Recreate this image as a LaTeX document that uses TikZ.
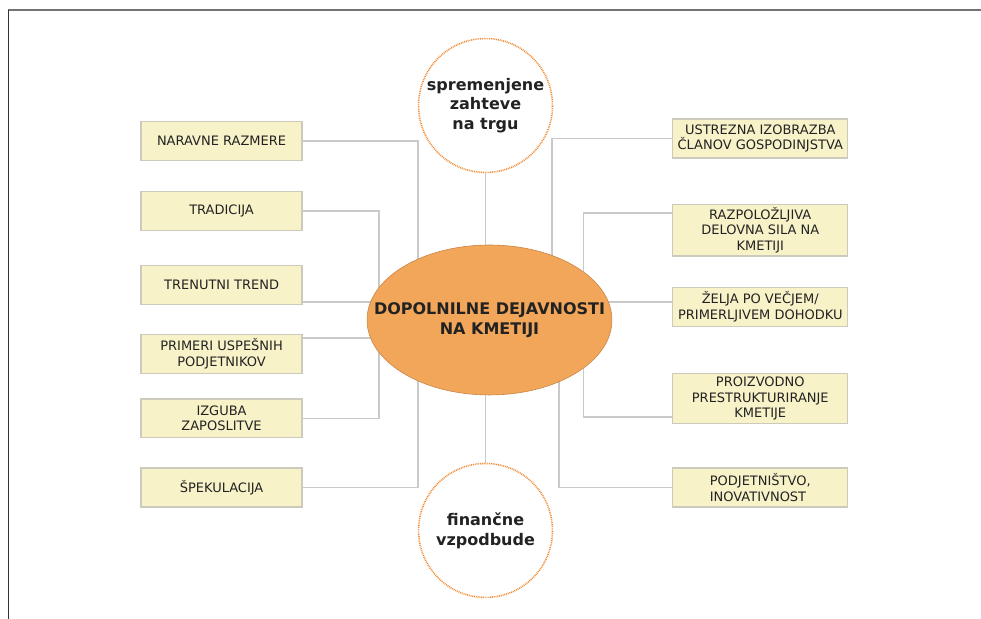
\documentclass[tikz,border=0pt]{standalone}
\usepackage{fontspec}
\setmainfont{DejaVu Sans}
\usetikzlibrary{positioning,backgrounds,shapes.geometric}

\definecolor{boxfill}{HTML}{F8F2C9}
\definecolor{boxline}{HTML}{CCCABC}
\definecolor{linkgray}{HTML}{C9C9C9}
\definecolor{kmetfill}{HTML}{F2A65A}
\definecolor{kmetline}{HTML}{C98444}
\definecolor{dotorange}{HTML}{F08A34}
\definecolor{txt}{HTML}{222222}

\tikzset{
  box/.style={draw=boxline, line width=1.2pt, fill=boxfill, text=txt, align=center,
    minimum height=39pt, inner xsep=2pt, inner ysep=3pt,
    font=\fontsize{13}{15.5}\selectfont},
  lbox/.style={box, minimum width=161pt},
  rbox/.style={box, minimum width=175pt},
  link/.style={draw=linkgray, line width=1.3pt},
  goal/.style={circle, draw=dotorange, line width=1.6pt, dash pattern=on 0.9pt off 0.9pt,
    minimum size=134pt, inner sep=0pt, align=center, text=txt,
    font=\fontsize{16}{19.7}\selectfont\bfseries},
  kmetija/.style={ellipse, draw=kmetline, line width=0.6pt, fill=kmetfill,
    minimum width=245pt, minimum height=150pt, inner sep=0pt},
}

\begin{document}
\begin{tikzpicture}[on grid]
 \useasboundingbox (-17.21,11.25) rectangle (17.28,-10.51);
 % okvir
 \draw[black!55, line width=1.8pt] (-16.92,10.91) -- (17.28,10.91);
 \draw[black!80, line width=0.8pt] (-16.92,10.91) -- (-16.92,-10.51);

 \node[kmetija, label={[text=txt, align=center, font=\fontsize{16}{20}\selectfont\bfseries]center:DOPOLNILNE DEJAVNOSTI\\NA KMETIJI}] (kmet) at (0,0) {};

 \node[goal, above left=7.54cm and 0.14cm of kmet] (spr) {spremenjene\\zahteve\\na trgu};
 \node[goal, below left=7.40cm and 0.14cm of kmet] (fin) {finančne\\vzpodbude};

 % levo
 \node[lbox, above left=6.29cm and 9.42cm of kmet] (nar) {NARAVNE RAZMERE};
 \node[lbox, above left=3.83cm and 9.42cm of kmet] (trad) {TRADICIJA};
 \node[lbox, above left=1.23cm and 9.42cm of kmet] (tren) {TRENUTNI TREND};
 \node[lbox, below left=1.19cm and 9.42cm of kmet] (prim) {PRIMERI USPEŠNIH\\PODJETNIKOV};
 \node[lbox, below left=3.46cm and 9.42cm of kmet] (izg) {IZGUBA\\ZAPOSLITVE};
 \node[lbox, below left=5.89cm and 9.42cm of kmet] (spek) {ŠPEKULACIJA};

 % desno
 \node[rbox, above right=6.38cm and 9.52cm of kmet] (ustr) {USTREZNA IZOBRAZBA\\ČLANOV GOSPODINJSTVA};
 \node[rbox, above right=3.16cm and 9.52cm of kmet] (razp) {RAZPOLOŽLJIVA\\DELOVNA SILA NA\\KMETIJI};
 \node[rbox, above right=0.47cm and 9.52cm of kmet] (zel) {ŽELJA PO VEČJEM/\\PRIMERLJIVEM DOHODKU};
 \node[rbox, below right=2.76cm and 9.52cm of kmet] (proiz) {PROIZVODNO\\PRESTRUKTURIRANJE\\KMETIJE};
 \node[rbox, below right=5.89cm and 9.52cm of kmet, align=left] (podj) {PODJETNIŠTVO,\\INOVATIVNOST};

 \coordinate[left=2.51cm of kmet] (levo1);
 \coordinate[left=3.88cm of kmet] (levo2);
 \coordinate[right=2.20cm of kmet] (desno1);
 \coordinate[right=2.44cm of kmet] (desno2);
 \coordinate[right=3.30cm of kmet] (desno3);

 \begin{scope}[on background layer]
  \draw[link] (nar.east) -| (levo1) |- (spek.east);
  \draw[link] (trad.east) -| (levo2) |- (izg.east);
  \draw[link] ([yshift=-0.6cm]tren.east) coordinate (t1) -- (t1 -| zel.west);
  \draw[link] ([yshift=0.56cm]prim.east) coordinate (p1) -- (p1 -| kmet);
  \draw[link] (ustr.west) -| (desno1);
  \draw[link] (podj.west) -| (desno2);
  \draw[link] ([yshift=0.6cm]razp.west) -| (desno3) |- ([yshift=-0.65cm]proiz.west);
  \draw[link] (spr) -- (spr |- kmet);
  \draw[link] (fin) -- (fin |- kmet);
 \end{scope}
\end{tikzpicture}
\end{document}
